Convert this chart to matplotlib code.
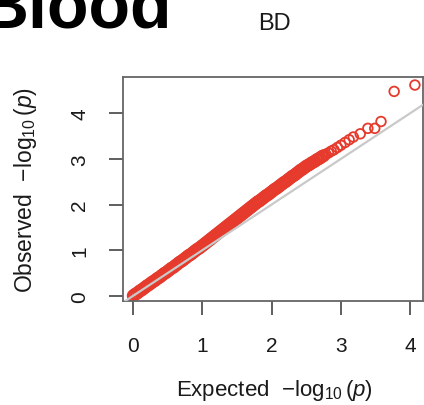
import matplotlib
matplotlib.use("Agg")
import matplotlib.pyplot as plt

plt.rcParams['font.family'] = ['Liberation Sans', 'DejaVu Sans']
plt.rcParams['mathtext.fontset'] = 'custom'
plt.rcParams['mathtext.rm'] = 'Liberation Sans'
plt.rcParams['mathtext.it'] = 'Liberation Sans:italic'
plt.rcParams['mathtext.bf'] = 'Liberation Sans:bold'

# ---- data ----
panel_title = "BD"
figure_label = "Blood"
x_label = r"Expected  $-\log_{10}(p)$"
y_label = r"Observed  $-\log_{10}(p)$"
x_ticks = [0, 1, 2, 3, 4]
y_ticks = [0, 1, 2, 3, 4]

bulk_expected = [
    0.000, 0.025, 0.050, 0.075, 0.100, 0.125, 0.150, 0.175, 0.200, 0.225,
    0.250, 0.275, 0.300, 0.325, 0.350, 0.375, 0.400, 0.425, 0.450, 0.475,
    0.500, 0.525, 0.550, 0.575, 0.600, 0.625, 0.650, 0.675, 0.700, 0.725,
    0.750, 0.775, 0.800, 0.825, 0.850, 0.875, 0.900, 0.925, 0.950, 0.975,
    1.000, 1.025, 1.050, 1.075, 1.100, 1.125, 1.150, 1.175, 1.200, 1.225,
    1.250, 1.275, 1.300, 1.325, 1.350, 1.375, 1.400, 1.425, 1.450, 1.475,
    1.500, 1.525, 1.550, 1.575, 1.600, 1.625, 1.650, 1.675, 1.700, 1.725,
    1.750, 1.775, 1.800, 1.825, 1.850, 1.875, 1.900, 1.925, 1.950, 1.975,
    2.000, 2.025, 2.050, 2.075, 2.100, 2.125, 2.150, 2.175, 2.200, 2.225,
    2.250, 2.275, 2.300, 2.325, 2.350, 2.375, 2.400, 2.425, 2.450, 2.475,
    2.500, 2.525, 2.550, 2.575, 2.600, 2.625, 2.650, 2.675, 2.700, 2.725,
    2.750,
]
bulk_observed = [
    0.00, 0.03, 0.05, 0.08, 0.11, 0.13, 0.16, 0.19, 0.22, 0.24,
    0.27, 0.30, 0.32, 0.35, 0.38, 0.40, 0.43, 0.46, 0.49, 0.51,
    0.54, 0.57, 0.60, 0.62, 0.65, 0.68, 0.71, 0.74, 0.76, 0.79,
    0.82, 0.85, 0.88, 0.90, 0.93, 0.96, 0.99, 1.02, 1.04, 1.07,
    1.10, 1.13, 1.16, 1.19, 1.22, 1.25, 1.28, 1.31, 1.34, 1.37,
    1.40, 1.43, 1.46, 1.49, 1.52, 1.55, 1.58, 1.61, 1.64, 1.67,
    1.70, 1.73, 1.76, 1.79, 1.82, 1.85, 1.88, 1.91, 1.94, 1.97,
    2.00, 2.03, 2.06, 2.08, 2.11, 2.14, 2.17, 2.20, 2.22, 2.25,
    2.28, 2.31, 2.34, 2.36, 2.39, 2.42, 2.45, 2.48, 2.50, 2.53,
    2.56, 2.59, 2.62, 2.64, 2.67, 2.70, 2.73, 2.76, 2.78, 2.81,
    2.84, 2.86, 2.88, 2.91, 2.93, 2.95, 2.98, 3.00, 3.02, 3.05,
    3.07,
]
tail_expected = [2.78, 2.82, 2.86, 2.90, 2.95, 3.00, 3.06, 3.12, 3.18, 3.28, 3.39, 3.49, 3.58, 3.77, 4.07]
tail_observed = [3.10, 3.13, 3.17, 3.20, 3.25, 3.30, 3.36, 3.42, 3.48, 3.55, 3.67, 3.67, 3.82, 4.48, 4.62]

point_color = '#E53A2C'
line_color = '#C9C9C9'
text_color = '#1a1a1a'

W, H = 424, 406
fig = plt.figure(figsize=(W / 100, H / 100), dpi=100)

# axes box in pixels: left 122.7, right 423, top 78, bottom 302
left_px, right_px, top_px, bottom_px = 122.7, 423.0, 78.0, 302.0
ax = fig.add_axes([left_px / W, 1 - bottom_px / H,
                   (right_px - left_px) / W, (bottom_px - top_px) / H])

ax.scatter(bulk_expected, bulk_observed, s=60, facecolors='none',
           edgecolors=point_color, linewidths=1.6, zorder=2)
ax.scatter(tail_expected, tail_observed, s=48, facecolors='none',
           edgecolors=point_color, linewidths=1.3, zorder=2)
ax.axline((0, 0), slope=1, color=line_color, lw=1.6, zorder=3)

ax.set_xlim(-0.153, 4.187)
ax.set_ylim(-0.116, 4.796)
ax.set_xticks(x_ticks)
ax.set_yticks(y_ticks)
ax.tick_params(axis='both', direction='out', length=10, width=1.1,
               color='#333333', labelsize=15, labelcolor=text_color)
ax.tick_params(axis='x', pad=15)
ax.tick_params(axis='y', pad=14)
for lab in ax.get_yticklabels():
    lab.set_rotation(90)
    lab.set_va('center')
for sp in ax.spines.values():
    sp.set_color('#666666')
    sp.set_linewidth(1.3)

fig.text(274 / W, 1 - 391 / H, x_label, ha='center', va='center',
         fontsize=16, color=text_color)
fig.text(26 / W, 1 - 190 / H, y_label, ha='center', va='center',
         rotation=90, fontsize=16.5, color=text_color)
fig.text(274 / W, 1 - 24 / H, panel_title, ha='center', va='center',
         fontsize=17, color=text_color)
fig.text(-20 / W, 1 - 28 / H, figure_label, ha='left', va='baseline',
         fontsize=49, fontweight='bold', color='black')

fig.savefig('out.png', dpi=100)
